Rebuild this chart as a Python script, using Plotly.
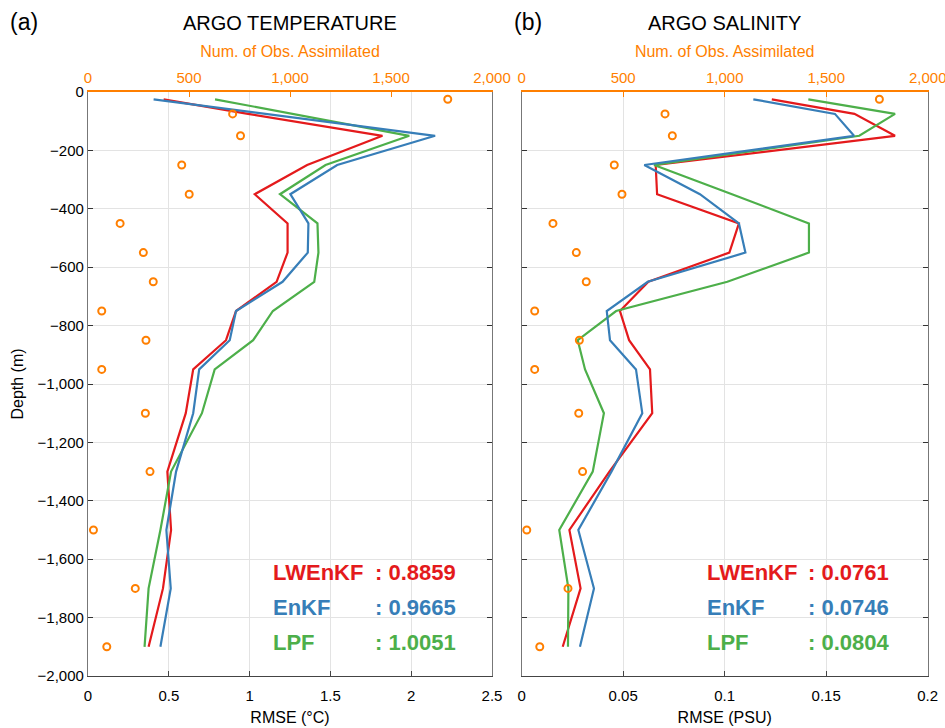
import plotly.graph_objects as go

# ---------------- data ----------------
depth = [-25, -75, -150, -250, -350, -450, -550, -650, -750, -850, -950, -1100, -1300, -1500, -1700, -1900]

temp_lwenkf = [0.468, 0.99, 1.822, 1.356, 1.032, 1.235, 1.235, 1.167, 0.916, 0.854, 0.651, 0.605, 0.491, 0.514, 0.464, 0.375]
temp_enkf = [0.406, 1.11, 2.148, 1.542, 1.252, 1.364, 1.36, 1.204, 0.916, 0.877, 0.688, 0.651, 0.545, 0.485, 0.512, 0.448]
temp_lpf = [0.786, 1.27, 1.988, 1.47, 1.188, 1.42, 1.426, 1.40, 1.144, 1.022, 0.784, 0.705, 0.514, 0.448, 0.375, 0.35]
temp_obs = [1781, 716, 755, 464, 501, 159, 274, 323, 68, 287, 68, 284, 307, 27, 234, 93]

sal_lwenkf = [0.1232, 0.1639, 0.1839, 0.066, 0.0667, 0.107, 0.1023, 0.0624, 0.0484, 0.0529, 0.0632, 0.0643, 0.0432, 0.0235, 0.029, 0.0202]
sal_enkf = [0.1141, 0.1543, 0.1637, 0.0604, 0.0878, 0.107, 0.1102, 0.0621, 0.0419, 0.0435, 0.0563, 0.0594, 0.0442, 0.0279, 0.0356, 0.0287]
sal_lpf = [0.1412, 0.1839, 0.1663, 0.0652, 0.1036, 0.1415, 0.1415, 0.1013, 0.0465, 0.0276, 0.0312, 0.0405, 0.035, 0.0185, 0.023, 0.0228]
sal_obs = [1762, 706, 742, 456, 494, 154, 269, 318, 64, 284, 64, 281, 300, 25, 228, 89]

methods = ["LWEnKF", "EnKF", "LPF"]
temp_scores = [": 0.8859", ": 0.9665", ": 1.0051"]
sal_scores = [": 0.0761", ": 0.0746", ": 0.0804"]

RED, BLUE, GREEN, ORANGE = "#e41a1c", "#377eb8", "#4daf4a", "#ff7f00"
FONT = "Liberation Sans, Arial, Helvetica, sans-serif"

fig = go.Figure()

def add_panel(xa, xa_top, ya, lw, ek, lp, obs):
    for vals, col, name in [(lw, RED, "LWEnKF"), (lp, GREEN, "LPF"), (ek, BLUE, "EnKF")]:
        fig.add_trace(go.Scatter(x=vals, y=depth, mode="lines", name=name,
                                 line=dict(color=col, width=2.2),
                                 xaxis=xa, yaxis=ya, showlegend=False))
    fig.add_trace(go.Scatter(x=obs, y=depth, mode="markers", name="Obs",
                             marker=dict(symbol="circle-open", size=7, color=ORANGE,
                                         line=dict(width=2, color=ORANGE)),
                             xaxis=xa_top, yaxis=ya, showlegend=False))

add_panel("x", "x2", "y", temp_lwenkf, temp_enkf, temp_lpf, temp_obs)
add_panel("x3", "x4", "y2", sal_lwenkf, sal_enkf, sal_lpf, sal_obs)

W, H = 945, 728
L1, R1 = 88, 492
L2, R2 = 521.7, 927.7
T, B = 92, 676
ydom = [1 - B / H, 1 - T / H]

tickfont = dict(family=FONT, size=15, color="black")
otickfont = dict(family=FONT, size=15, color=ORANGE)

bottom_common = dict(showgrid=True, gridcolor="#e3e3e3", gridwidth=1, zeroline=False,
                     showline=True, linecolor="#444", linewidth=1.2,
                     ticks="inside", ticklen=5, tickcolor="#444",
                     tickfont=tickfont, automargin=False, ticklabelstandoff=6,
                     title_font=dict(family=FONT, size=16, color="black"), title_standoff=8)
top_common = dict(side="top", showgrid=False, zeroline=False, showline=True,
                  linecolor=ORANGE, linewidth=1.5, ticks="inside", ticklen=5,
                  tickcolor=ORANGE, tickfont=otickfont, range=[0, 2000], dtick=500,
                  tickformat=",", automargin=False, ticklabeloverflow="allow",
                  ticklabelstandoff=1,
                  title=dict(text="Num. of Obs. Assimilated",
                             font=dict(family=FONT, size=16, color=ORANGE), standoff=8))
y_common = dict(range=[-2000, 0], dtick=200, tickformat=",", showgrid=True,
                gridcolor="#e3e3e3", zeroline=False, showline=True, linecolor="#777",
                linewidth=1.2, mirror="ticks", ticks="inside", ticklen=5, tickcolor="#333",
                tickfont=tickfont, domain=ydom, automargin=False)

fig.update_layout(
    width=W, height=H,
    margin=dict(l=0, r=0, t=0, b=0),
    paper_bgcolor="white", plot_bgcolor="white",
    font=dict(family=FONT),
    xaxis=dict(domain=[L1 / W, R1 / W], range=[0, 2.5], dtick=0.5, anchor="y",
               title=dict(text="RMSE (°C)"), **bottom_common),
    xaxis2=dict(overlaying="x", anchor="y", **top_common),
    xaxis3=dict(domain=[L2 / W, R2 / W], range=[0, 0.2], dtick=0.05, anchor="y2",
                title=dict(text="RMSE (PSU)"), **bottom_common),
    xaxis4=dict(overlaying="x3", anchor="y2", **top_common),
    yaxis=dict(anchor="x", title=dict(text="Depth (m)", font=dict(family=FONT, size=16, color="black"),
                                      standoff=10), **y_common),
    yaxis2=dict(anchor="x3", matches="y", showticklabels=False, **y_common),
)

ann = []
# panel titles and labels
ann.append(dict(text="(a)", x=8 / W, y=1 - 22 / H, xanchor="left", yanchor="middle",
                font=dict(family=FONT, size=23, color="black")))
ann.append(dict(text="(b)", x=512 / W, y=1 - 22 / H, xanchor="left", yanchor="middle",
                font=dict(family=FONT, size=23, color="black")))
ann.append(dict(text="ARGO TEMPERATURE", x=(L1 + R1) / 2 / W, y=1 - 23 / H, xanchor="center",
                yanchor="middle", font=dict(family=FONT, size=20, color="black")))
ann.append(dict(text="ARGO SALINITY", x=(L2 + R2) / 2 / W, y=1 - 23 / H, xanchor="center",
                yanchor="middle", font=dict(family=FONT, size=20, color="black")))

cols = [RED, BLUE, GREEN]
ys = [572, 607, 642]
for i in range(3):
    f = dict(family=FONT, size=22, color=cols[i])
    ann.append(dict(text="<b>%s</b>" % methods[i], x=271 / W, y=1 - ys[i] / H,
                    xanchor="left", yanchor="middle", font=f))
    ann.append(dict(text="<b>%s</b>" % temp_scores[i], x=373 / W, y=1 - ys[i] / H,
                    xanchor="left", yanchor="middle", font=f))
    ann.append(dict(text="<b>%s</b>" % methods[i], x=705 / W, y=1 - ys[i] / H,
                    xanchor="left", yanchor="middle", font=f))
    ann.append(dict(text="<b>%s</b>" % sal_scores[i], x=806 / W, y=1 - ys[i] / H,
                    xanchor="left", yanchor="middle", font=f))

for a in ann:
    a.update(xref="paper", yref="paper", showarrow=False)
fig.update_layout(annotations=ann)

fig.write_html("out.html")
